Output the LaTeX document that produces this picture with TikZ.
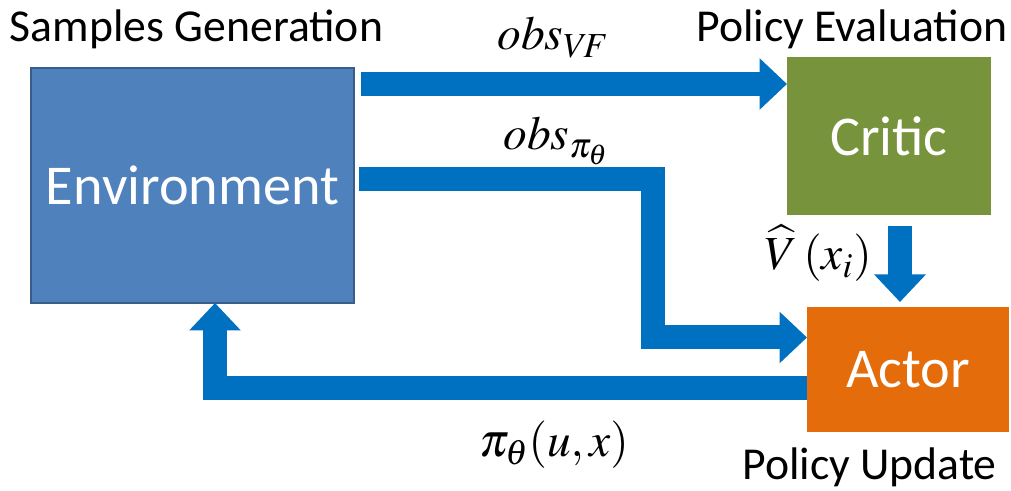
\documentclass[tikz,border=0pt]{standalone}
\usepackage{mathptmx}
\usepackage{fontspec}
\setmainfont{Carlito}
\usetikzlibrary{arrows.meta,positioning,calc}
\definecolor{envblue}{HTML}{4F81BD}
\definecolor{envedge}{HTML}{385D8A}
\definecolor{criticgreen}{HTML}{77933C}
\definecolor{actororange}{HTML}{E46C0A}
\definecolor{flowblue}{HTML}{0070C0}

\begin{document}
\begin{tikzpicture}[
    block/.style={inner sep=0pt, outer sep=0pt, text=white, font=\fontsize{32}{38}\selectfont},
    flow/.style={draw=flowblue, line width=0.48cm, -{Triangle[length=0.55cm,width=1.0cm]}},
    caption/.style={anchor=base, inner sep=0pt, font=\fontsize{26}{31}\selectfont},
    mlabel/.style={anchor=base west, inner sep=0pt, font=\fontsize{27}{32}\selectfont}
]
\useasboundingbox (0,0) rectangle (20.22,-9.82);

\node[block, fill=envblue, draw=envedge, line width=0.6pt, minimum width=6.46cm, minimum height=4.7cm] (env) at (3.85,-3.71) {Environment};
\node[block, fill=criticgreen, minimum width=4.08cm, minimum height=3.16cm] (crit) at (17.78,-2.72) {Critic};
\node[block, fill=actororange, minimum width=4.04cm, minimum height=2.5cm] (act) at (18.16,-7.39) {Actor};

\node[caption] (gen) at (3.93,-0.84) {Samples Generation};
\node[caption] (evl) at (17.04,-0.84) {Policy Evaluation};
\node[caption] (upd) at (17.39,-9.6) {Policy Update};

% observations to critic and actor
\coordinate (vfout) at ([xshift=0.14cm,yshift=-0.32cm]env.north east);
\coordinate (piout) at ([xshift=0.10cm,yshift=-2.23cm]env.north east);
\coordinate (piin) at ([yshift=0.64cm]act.west);
\draw[flow] (vfout) -- (vfout -| crit.west);
\draw[flow] (piout) -| ([xshift=-3.09cm]piin) -- (piin);

% value estimate and policy
\coordinate (vtop) at ([xshift=0.22cm,yshift=-0.22cm]crit.south);
\draw[flow, shorten >=0.1cm] (vtop) -- (vtop |- act.north);
\draw[flow] ([yshift=-0.37cm]act.west) -| ([xshift=0.45cm]env.south);

\node[mlabel] (lvf) at (9.94,-1.0) {$obs_{V\!F}$};
\node[mlabel] (lpi) at (10.06,-3.0) {$obs_{\pi_\theta}$};
\node[mlabel] (lv) at (15.3,-5.4) {$\widehat{V}\,(x_i)$};
\node[mlabel] (lpol) at (9.58,-9.14) {$\pi_\theta(u,x)$};
\end{tikzpicture}
\end{document}
